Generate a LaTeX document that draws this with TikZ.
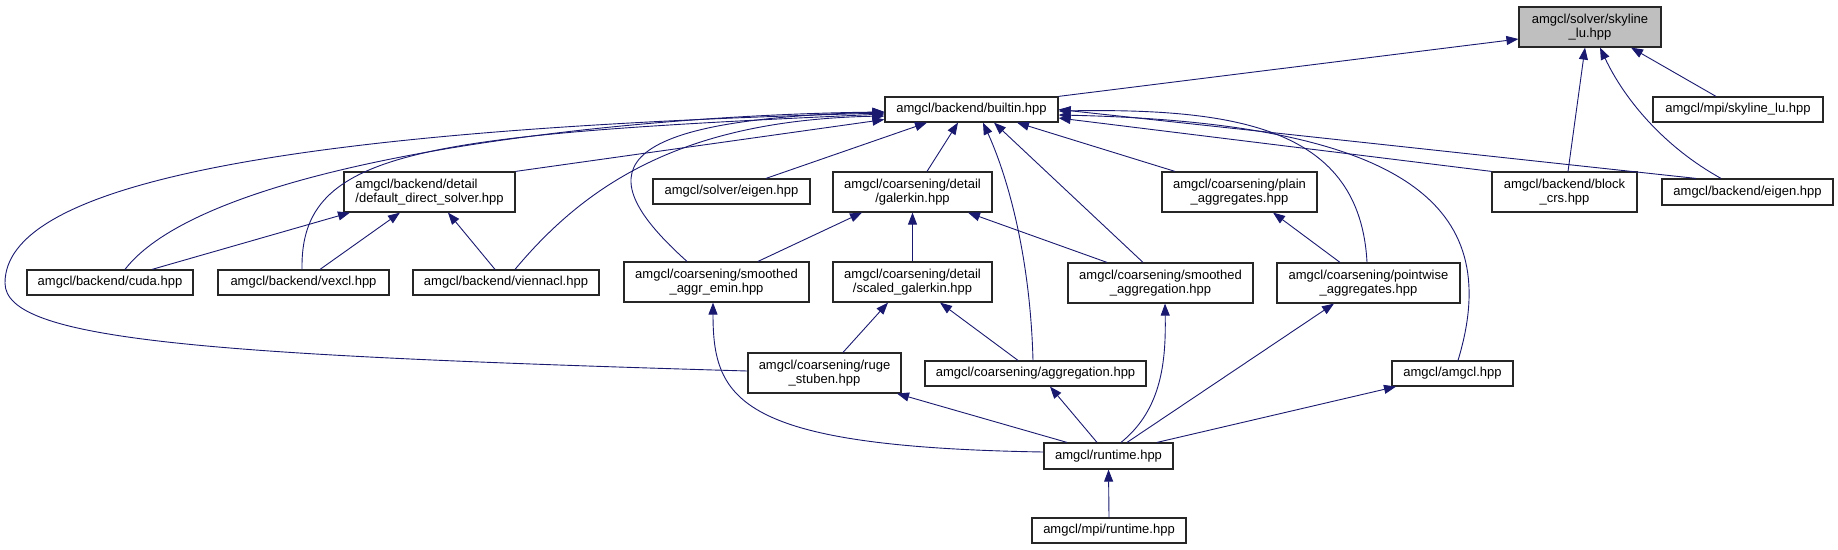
\documentclass[tikz,border=0pt]{standalone}
\usepackage{fontspec}
\setmainfont{Liberation Sans}
\usepackage{xcolor}
\usetikzlibrary{arrows.meta}

\definecolor{edgeblue}{HTML}{191970}
\definecolor{rootgray}{HTML}{BFBFBF}

\begin{document}
\begin{tikzpicture}[
		x=1pt, y=-1pt,
		font=\fontsize{13}{14}\selectfont,
		box/.style={draw=black!85, line width=1.2pt, align=center, inner sep=0pt, minimum height=25pt},
		tall/.style={minimum height=40pt},
		arr/.style={-{Triangle[length=12pt, width=9pt]}, color=edgeblue, line width=0.9pt}
		]
		\useasboundingbox (0,0) rectangle (1838,549);

		% top rows
		\node[box, tall, fill=rootgray, minimum width=142pt] (sky) at (1590,27)
		{amgcl/solver/skyline\\\_lu.hpp};
		\node[box, minimum width=173pt] (builtin) at (971.5,109.5) {amgcl/backend/builtin.hpp};
		\node[box, minimum width=170pt] (mpisky) at (1738,109.5) {amgcl/mpi/skyline\_lu.hpp};

		\node[box, tall, align=left, minimum width=171pt] (dds) at (429.5,192)
		{amgcl/backend/detail\\/default\_direct\_solver.hpp};
		\node[box, minimum width=157pt] (seigen) at (731.5,191.5) {amgcl/solver/eigen.hpp};
		\node[box, tall, minimum width=159pt] (galerkin) at (912.5,192)
		{amgcl/coarsening/detail\\/galerkin.hpp};
		\node[box, tall, minimum width=155pt] (plain) at (1239.5,192)
		{amgcl/coarsening/plain\\\_aggregates.hpp};
		\node[box, tall, minimum width=145pt] (blockcrs) at (1564.5,192)
		{amgcl/backend/block\\\_crs.hpp};
		\node[box, minimum width=171pt, minimum height=26pt] (beigen) at (1747.5,192) {amgcl/backend/eigen.hpp};

		% middle row
		\node[box, minimum width=166pt] (cuda) at (110,282.5) {amgcl/backend/cuda.hpp};
		\node[box, minimum width=171pt] (vexcl) at (303.5,282.5) {amgcl/backend/vexcl.hpp};
		\node[box, minimum width=186pt] (viennacl) at (506,282.5) {amgcl/backend/viennacl.hpp};
		\node[box, tall, minimum width=185pt] (emin) at (716.5,282)
		{amgcl/coarsening/smoothed\\\_aggr\_emin.hpp};
		\node[box, tall, minimum width=159pt] (scaled) at (912.5,282)
		{amgcl/coarsening/detail\\/scaled\_galerkin.hpp};
		\node[box, tall, minimum width=185pt] (smagg) at (1160.5,283)
		{amgcl/coarsening/smoothed\\\_aggregation.hpp};
		\node[box, tall, minimum width=183pt] (pointwise) at (1368.5,283)
		{amgcl/coarsening/pointwise\\\_aggregates.hpp};

		% bottom rows
		\node[box, tall, minimum width=153pt] (ruge) at (824.5,373)
		{amgcl/coarsening/ruge\\\_stuben.hpp};
		\node[box, minimum width=221pt] (aggregation) at (1035.5,373.5) {amgcl/coarsening/aggregation.hpp};
		\node[box, minimum width=121pt] (amgcl) at (1452.5,373.5) {amgcl/amgcl.hpp};
		\node[box, minimum width=129pt, minimum height=26pt] (runtime) at (1108.5,456) {amgcl/runtime.hpp};
		\node[box, minimum width=154pt] (mpirt) at (1109,530.5) {amgcl/mpi/runtime.hpp};

		\coordinate (rugeturn) at (5,283);

		% into skyline_lu
		\draw[arr] (builtin.north east) -- ([yshift=-12pt]sky.west);
		\draw[arr] ([xshift=-22pt]mpisky.north) -- ([xshift=41pt]sky.south);
		\draw[arr] ([xshift=3.5pt]blockcrs.north) -- ([xshift=-5pt]sky.south);
		\draw[arr] ([xshift=-26.5pt]beigen.north) .. controls +(-56,-31) and +(25,53) .. ([xshift=10pt]sky.south);

		% into builtin
		\draw[arr] ([yshift=2pt]ruge.west) .. controls +(-548,-16) and +(0,57) .. (rugeturn)
		.. controls +(0,-93) and +(-635,17) .. ([yshift=-3.5pt]builtin.west);
		\draw[arr] ([xshift=15pt]cuda.north) .. controls +(85,-110) and +(-265,3) .. ([yshift=-2.5pt]builtin.west);
		\draw[arr] ([xshift=-1.5pt]vexcl.north) .. controls +(-2,-120) and +(-465,21) .. ([yshift=-4.5pt]builtin.west);
		\draw[arr] ([xshift=9pt]viennacl.north) .. controls +(75,-90) and +(-195,4) .. ([yshift=-6.5pt]builtin.west);
		\draw[arr] (dds.north east) -- ([yshift=-10pt]builtin.west);
		\draw[arr] ([xshift=-29.5pt]emin.north) .. controls +(-97,-87) and +(-285,8) .. ([yshift=-2.5pt]builtin.west);
		\draw[arr] ([xshift=34.5pt]seigen.north) -- ([xshift=-44.5pt]builtin.south);
		\draw[arr] ([xshift=14.5pt]galerkin.north) -- ([xshift=-13.5pt]builtin.south);
		\draw[arr] ([xshift=-2.5pt]aggregation.north) .. controls +(-3,-111) and +(22,48) .. ([xshift=11.5pt]builtin.south);
		\draw[arr] ([xshift=-17.5pt]smagg.north) -- ([xshift=22.5pt]builtin.south);
		\draw[arr] ([xshift=-64.5pt]plain.north) -- ([xshift=45.5pt]builtin.south);
		\draw[arr] ([xshift=-1.5pt]pointwise.north) .. controls +(-7,-133) and +(182,-3) .. ([yshift=-1.5pt]builtin.east);
		\draw[arr] ([xshift=5.5pt]amgcl.north) .. controls +(44,-145) and +(365,8) .. ([yshift=-5.5pt]builtin.east);
		\draw[arr] (blockcrs.north west) -- ([yshift=-8.5pt]builtin.east);
		\draw[arr] ([xshift=-51.5pt]beigen.north) -- (builtin.east);

		% second level
		\draw[arr] ([xshift=42pt]cuda.north) -- ([xshift=-79.5pt]dds.south);
		\draw[arr] ([xshift=16.5pt]vexcl.north) -- ([xshift=-29.5pt]dds.south);
		\draw[arr] ([xshift=-11pt]viennacl.north) -- ([xshift=18.5pt]dds.south);
		\draw[arr] ([xshift=41.5pt]emin.north) -- ([xshift=-50.5pt]galerkin.south);
		\draw[arr] (scaled.north) -- (galerkin.south);
		\draw[arr] ([xshift=-53.5pt]smagg.north) -- ([xshift=55.5pt]galerkin.south);
		\draw[arr] ([xshift=-28.5pt]pointwise.north) -- ([xshift=33.5pt]plain.south);
		\draw[arr] ([xshift=18.5pt]ruge.north) -- ([xshift=-24.5pt]scaled.south);
		\draw[arr] ([xshift=-17.5pt]aggregation.north) -- ([xshift=27.5pt]scaled.south);

		% into runtime
		\draw[arr] ([yshift=4pt]runtime.west) .. controls +(-304,-5) and +(0,98) .. ([xshift=-3.5pt]emin.south);
		\draw[arr] ([xshift=-41.5pt]runtime.north) -- ([xshift=72.5pt]ruge.south);
		\draw[arr] ([xshift=-11.5pt]runtime.north) -- ([xshift=14.5pt]aggregation.south);
		\draw[arr] ([xshift=12.5pt]runtime.north) .. controls +(41,-33) and +(1,57) .. ([xshift=4.5pt]smagg.south);
		\draw[arr] ([xshift=18.5pt]runtime.north) -- ([xshift=-34.5pt]pointwise.south);
		\draw[arr] ([xshift=48.5pt]runtime.north) -- ([xshift=-56.5pt]amgcl.south);
		\draw[arr] (mpirt.north) -- (runtime.south);
	\end{tikzpicture}
\end{document}
